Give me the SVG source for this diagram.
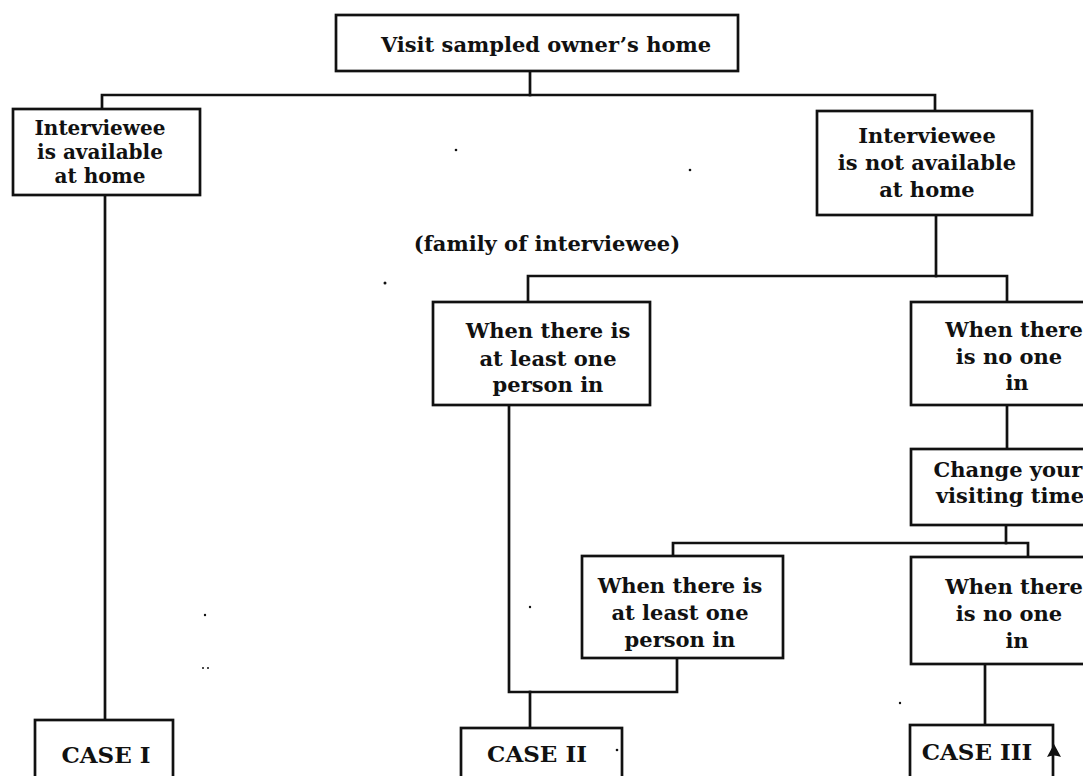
<svg xmlns="http://www.w3.org/2000/svg" width="1083" height="776" viewBox="0 0 1083 776">
<style>
.box{fill:#fff;stroke:#111;stroke-width:2.7}
.ln{fill:none;stroke:#111;stroke-width:2.7;stroke-linecap:square}
.t{font-family:"DejaVu Serif","Liberation Serif",serif;font-weight:bold;font-size:21px;fill:#111;text-anchor:middle}
.s{font-size:20px}
.c{font-size:23px}
.dot{fill:#111}
</style>
<rect width="1083" height="776" fill="#fff"/>
<g id="connectors">
<path class="ln" d="M530,71 V95"/>
<path class="ln" d="M102,109 V95 H935 V111"/>
<path class="ln" d="M105,195 V720"/>
<path class="ln" d="M936,215 V276"/>
<path class="ln" d="M528,302 V276 H1007 V302"/>
<path class="ln" d="M1007,405 V449"/>
<path class="ln" d="M1006,525 V543"/>
<path class="ln" d="M673,556 V543 H1028 V557"/>
<path class="ln" d="M509,405 V692 H677 V658"/>
<path class="ln" d="M530,692 V728"/>
<path class="ln" d="M985,664 V725"/>
</g>
<g id="n-visit">
<rect class="box" x="336" y="15" width="402" height="56"/>
<text class="t" x="546" y="52">Visit sampled owner’s home</text>
</g>
<g id="n-available">
<rect class="box" x="13" y="109" width="187" height="86"/>
<text class="t s" x="100" y="135">Interviewee</text>
<text class="t s" x="100" y="159">is available</text>
<text class="t s" x="100" y="183">at home</text>
</g>
<g id="n-notavailable">
<rect class="box" x="817" y="111" width="215" height="104"/>
<text class="t" x="927" y="143">Interviewee</text>
<text class="t" x="927" y="170">is not available</text>
<text class="t" x="927" y="197">at home</text>
</g>
<g id="label-family">
<text class="t" x="547" y="251">(family of interviewee)</text>
</g>
<g id="n-atleast1">
<rect class="box" x="433" y="302" width="217" height="103"/>
<text class="t" x="548" y="338">When there is</text>
<text class="t" x="548" y="366">at least one</text>
<text class="t" x="548" y="392">person in</text>
</g>
<g id="n-noone1">
<rect class="box" x="911" y="302" width="200" height="103"/>
<text class="t" x="1014" y="337">When there</text>
<text class="t" x="1009" y="364">is no one</text>
<text class="t" x="1017" y="390">in</text>
</g>
<g id="n-change">
<rect class="box" x="911" y="449" width="200" height="76"/>
<text class="t" x="1008" y="477">Change your</text>
<text class="t" x="1010" y="503">visiting time</text>
</g>
<g id="n-atleast2">
<rect class="box" x="582" y="556" width="201" height="102"/>
<text class="t" x="680" y="593">When there is</text>
<text class="t" x="680" y="620">at least one</text>
<text class="t" x="680" y="647">person in</text>
</g>
<g id="n-noone2">
<rect class="box" x="911" y="557" width="200" height="107"/>
<text class="t" x="1014" y="594">When there</text>
<text class="t" x="1009" y="621">is no one</text>
<text class="t" x="1017" y="648">in</text>
</g>
<g id="n-case1">
<rect class="box" x="35" y="720" width="138" height="80"/>
<text class="t c" x="106" y="763">CASE I</text>
</g>
<g id="n-case2">
<rect class="box" x="461" y="728" width="161" height="80"/>
<text class="t c" x="537" y="762">CASE II</text>
</g>
<g id="n-case3">
<rect class="box" x="910" y="725" width="143" height="80"/>
<text class="t c" x="977" y="760">CASE III</text>
<path fill="#111" d="M1054,744 L1061,757 Q1054,754 1047,757 Z"/>
</g>
<g id="specks">
<circle class="dot" cx="456" cy="150" r="1.3"/>
<circle class="dot" cx="690" cy="170" r="1.3"/>
<circle class="dot" cx="385" cy="283" r="1.5"/>
<circle class="dot" cx="205" cy="615" r="1.2"/>
<circle class="dot" cx="203" cy="668" r="1"/>
<circle class="dot" cx="208" cy="668" r="1"/>
<circle class="dot" cx="530" cy="607" r="1.2"/>
<circle class="dot" cx="617" cy="750" r="1.3"/>
<circle class="dot" cx="900" cy="703" r="1.2"/>
</g>
</svg>
